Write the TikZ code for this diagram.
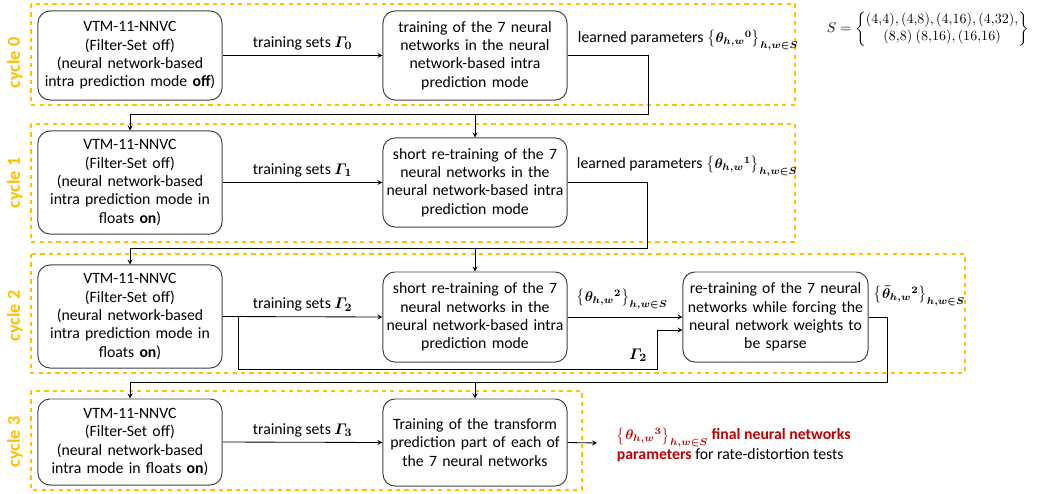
\documentclass[tikz,border=0pt]{standalone}
\usepackage{amsmath,amssymb}
\usepackage{fontspec}
\setmainfont{Carlito}
\usepackage{xcolor}
\usetikzlibrary{positioning}
\usetikzlibrary{arrows, shapes, arrows.meta}
\definecolor{cycleorange}{RGB}{255,192,0}
\definecolor{finalred}{RGB}{192,0,0}
\tikzstyle{blk} = [rectangle, rounded corners=0.3cm, draw=black!75, line width=0.7pt, minimum width=4.6cm, text width=4.5cm, align=center, inner sep=0pt]
\tikzstyle{cyc} = [draw=cycleorange, dashed, line width=0.8pt]
\tikzstyle{cyclabel} = [rotate=90, text=cycleorange, font=\fontsize{13}{15}\selectfont\bfseries]
\tikzstyle{arrow} = [line width=0.6pt,->,>=stealth]
\def\param#1{{\fontsize{10.2}{12}\selectfont$\boldsymbol{\bigl\{\theta_{h,w}{}^{#1}\bigr\}_{h,w\in S}}$}}

\begin{document}
\begin{tikzpicture}[x=0.025cm, y=-0.025cm, every node/.style={font=\fontsize{11.2}{13}\selectfont}]
\useasboundingbox (0,0) rectangle (1037,493);
% cycle frames
\draw[cyc] (31,4) rectangle (795,105);
\draw[cyc] (31,124) rectangle (795,242);
\draw[cyc] (31,254) rectangle (965,373);
\draw[cyc] (31,391) rectangle (582,490);
\node (l0) at (15,63) [cyclabel] {cycle 0};
\node (l1) at (15,183) [cyclabel] {cycle 1};
\node (l2) at (15,316) [cyclabel] {cycle 2};
\node (l3) at (15,442) [cyclabel] {cycle 3};
% cycle 0
\node (a0) at (130,55.5) [blk, minimum height=2.225cm] {VTM-11-NNVC\\(Filter-Set off)\\(neural network-based\\intra prediction mode \textbf{off})};
\node (b0) at (475,55.5) [blk, minimum height=2.225cm] {training of the 7 neural\\networks in the neural\\network-based intra\\prediction mode};
\draw[arrow] (a0.east) -- node[above] {training sets $\boldsymbol{\varGamma_0}$} (b0.west);
\node (p0) at (573,40) [anchor=west] {learned parameters \param{0}};
% cycle 1
\node (a1) at (130,182.5) [blk, minimum height=2.575cm] {VTM-11-NNVC\\(Filter-Set off)\\(neural network-based\\intra prediction mode in\\floats \textbf{on})};
\node (b1) at (475,182.5) [blk, minimum height=2.225cm] {short re-training of the 7\\neural networks in the\\neural network-based intra\\prediction mode};
\draw[arrow] (a1.east) -- node[above] {training sets $\boldsymbol{\varGamma_1}$} (b1.west);
\node (p1) at (572,166) [anchor=west] {learned parameters \param{1}};
\coordinate (t0) at (648,114);
\draw[arrow] (b0.east) -| (t0) -| (a1.north);
\draw[arrow] (t0 -| b1.north) -- (b1.north);
% cycle 2
\node (a2) at (130,316.5) [blk, minimum height=2.575cm] {VTM-11-NNVC\\(Filter-Set off)\\(neural network-based\\intra prediction mode in\\floats \textbf{on})};
\node (b2) at (475,317) [blk, minimum height=2.25cm] {short re-training of the 7\\neural networks in the\\neural network-based intra\\prediction mode};
\node (c2) at (775.5,317) [blk, minimum width=4.625cm, minimum height=2.25cm] {re-training of the 7 neural\\networks while forcing the\\neural network weights to\\be sparse};
\draw[arrow] (a2.east) -- node[above] {training sets $\boldsymbol{\varGamma_2}$} (b2.west);
\draw[arrow] (b2.east) -- (c2.west);
\node (p2) at (622,299) {\param{2}};
\coordinate (t1) at (647,248);
\draw[arrow] (b1.east) -| (t1) -| (a2.north);
\draw[arrow] (t1 -| b2.north) -- (b2.north);
\coordinate (g0) at (238,369);
\coordinate (g1) at (657,330);
\draw[arrow] (a2.east -| g0) -- (g0) -| (g1) -- (c2.west |- g1);
\node (g2) at (638,355) {$\boldsymbol{\varGamma_2}$};
\node (q2) at (872,296) [anchor=west, inner sep=1pt, font=\fontsize{10.2}{12}\selectfont] {$\boldsymbol{\bigl\{\bar\theta_{h,w}{}^{2}\bigr\}_{h,w\in S}}$};
% cycle 3
\node (a3) at (130,442) [blk, minimum height=2.15cm] {VTM-11-NNVC\\(Filter-Set off)\\(neural network-based\\intra mode in floats \textbf{on})};
\node (b3) at (475,442.5) [blk, minimum height=2.175cm] {Training of the transform\\prediction part of each of\\the 7 neural networks};
\draw[arrow] (a3.east) -- node[above] {training sets $\boldsymbol{\varGamma_3}$} (b3.west);
\coordinate (t2) at (887,382);
\draw[arrow] (c2.east) -| (t2) -| (a3.north);
\draw[arrow] (t2 -| b3.north) -- (b3.north);
\coordinate (out) at (597,443);
\draw[arrow] (b3.east) -- (out);
\node (fin) at (612,445) [anchor=west, align=left] {\textcolor{finalred}{\param{3} \textbf{final neural networks}}\\\textcolor{finalred}{\textbf{parameters}} for rate-distortion tests};
% set of block sizes
\node (set) at (928,29) [font=\fontsize{10.2}{12}\selectfont] {$S=\left\{\begin{matrix}(4{,}4),(4{,}8),(4{,}16),(4{,}32),\\(8{,}8)\ (8{,}16),(16{,}16)\end{matrix}\right\}$};
\end{tikzpicture}
\end{document}
